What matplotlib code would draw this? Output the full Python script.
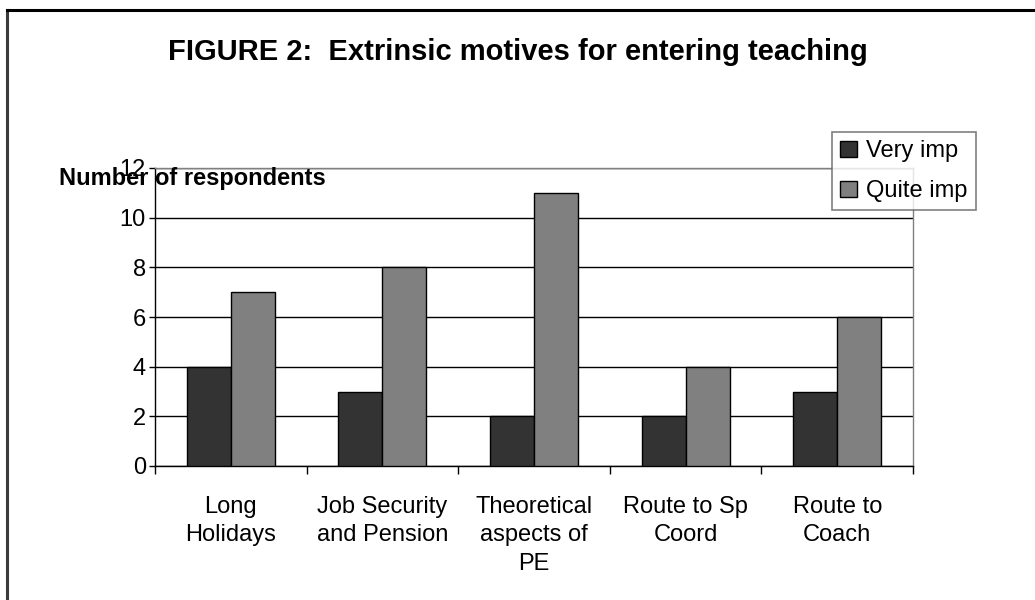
import numpy as np
import matplotlib.pyplot as plt
from matplotlib.lines import Line2D
from matplotlib.patches import Patch

plt.rcParams['font.family'] = ['Liberation Sans', 'DejaVu Sans']

# data
categories = ['Long\nHolidays', 'Job Security\nand Pension', 'Theoretical\naspects of\nPE',
              'Route to Sp\nCoord', 'Route to\nCoach']
very_imp = [4, 3, 2, 2, 3]
quite_imp = [7, 8, 11, 4, 6]
series_names = ['Very imp', 'Quite imp']
yticks = [0, 2, 4, 6, 8, 10, 12]

W, H = 1035, 600
fig = plt.figure(figsize=(W / 100, H / 100), dpi=100)
ax = fig.add_axes([155 / W, 1 - 466 / H, (913 - 155) / W, (466 - 168) / H])

x = np.arange(len(categories))
bw = 0.29
ax.bar(x - bw / 2, very_imp, bw, color='#333333', edgecolor='black', linewidth=1, zorder=3)
ax.bar(x + bw / 2, quite_imp, bw, color='#808080', edgecolor='black', linewidth=1, zorder=3)

ax.set_xlim(-0.5, len(categories) - 0.5)
ax.set_ylim(0, 12)
ax.set_yticks(yticks)
ax.yaxis.grid(True, color='black', linewidth=1, zorder=0)
ax.set_axisbelow(True)

ax.set_xticks(x)
ax.set_xticklabels(categories, fontsize=17, linespacing=1.38)
ax.tick_params(axis='x', which='major', length=0, pad=21.5)
ax.set_xticks(np.arange(len(categories) + 1) - 0.5, minor=True)
ax.tick_params(axis='x', which='minor', length=6, width=1, color='black')
ax.tick_params(axis='y', length=4.5, width=1, pad=2, labelsize=17)

for s in ['top', 'right']:
    ax.spines[s].set_color('#808080')
for s in ['left', 'bottom']:
    ax.spines[s].set_color('black')
for s in ax.spines.values():
    s.set_linewidth(1)

fig.text(0.5, 1 - 60 / H, 'FIGURE 2:  Extrinsic motives for entering teaching',
         ha='center', va='baseline', fontsize=21, fontweight='bold')
fig.text(59 / W, 1 - 185 / H, 'Number of respondents', ha='left', va='baseline',
         fontsize=17, fontweight='bold')

handles = [Patch(facecolor='#333333', edgecolor='black', linewidth=1),
           Patch(facecolor='#808080', edgecolor='black', linewidth=1)]
leg = fig.legend(handles, series_names, loc='upper left',
                 bbox_to_anchor=(832 / W, 1 - 132 / H), fontsize=17,
                 frameon=True, fancybox=False, handlelength=0.7, handleheight=0.7,
                 handletextpad=0.4, borderpad=0.35, labelspacing=0.76, borderaxespad=0)
leg.get_frame().set_edgecolor('#606060')
leg.get_frame().set_linewidth(1.2)

# outer border (left and top only)
fig.add_artist(Line2D([7 / W, 7 / W], [0, 1 - 10 / H], color='#3a3a3a', linewidth=2.2))
fig.add_artist(Line2D([7 / W, 1], [1 - 10 / H, 1 - 10 / H], color='black', linewidth=2.2))

fig.savefig('out.png', dpi=100)
